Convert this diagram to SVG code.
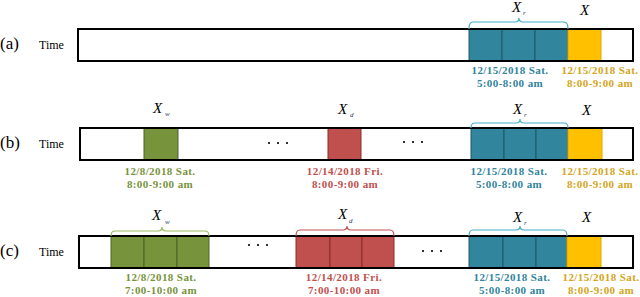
<svg xmlns="http://www.w3.org/2000/svg" width="640" height="297" viewBox="0 0 640 297">
<style>
.lbl{font-family:"Liberation Serif","Times New Roman",serif;font-size:17px;fill:#000}
.time{font-family:"Liberation Serif","Times New Roman",serif;font-size:12px;fill:#000}
.x{font-family:"Liberation Serif","Times New Roman",serif;font-size:15px;font-style:italic;fill:#000}
.sub{font-family:"Liberation Serif","Times New Roman",serif;font-size:7px;font-style:italic;fill:#1F3864}
.dt{font-family:"Liberation Serif","Times New Roman",serif;font-size:11px;letter-spacing:0.4px;font-weight:bold;text-anchor:middle}
.tl{fill:none;stroke:#000;stroke-width:2}
.teal{fill:#31859C;stroke:#215968;stroke-width:1}
.yel{fill:#FFC000;stroke:#E0A800;stroke-width:1}
.grn{fill:#77933C;stroke:#4F6228;stroke-width:1}
.red{fill:#C0504D;stroke:#8B2E2B;stroke-width:1}
.bt{fill:none;stroke:#4BACC6;stroke-width:1.2}
.bg{fill:none;stroke:#9BBB59;stroke-width:1.2}
.br{fill:none;stroke:#C0504D;stroke-width:1.2}
.cteal{fill:#31849B}.cyel{fill:#D4A520}.cgrn{fill:#77933C}.cred{fill:#C0504D}
</style>
<g id="row-a">
  <text class="lbl" x="0" y="49">(a)</text>
  <text class="time" x="39" y="49">Time</text>
  <g id="a-recent">
    <rect class="teal" x="469" y="29" width="33" height="32"/>
    <rect class="teal" x="502" y="29" width="33" height="32"/>
    <rect class="teal" x="535" y="29" width="33" height="32"/>
  </g>
  <rect id="a-target" class="yel" x="568" y="29" width="33" height="32"/>
  <rect id="a-timeline" class="tl" x="78" y="29" width="555" height="32"/>
  <text class="x" x="512" y="12">X</text><text class="sub" x="523" y="15">r</text>
  <text class="x" x="580" y="15">X</text>
  <text class="dt cteal" x="510" y="74">12/15/2018 Sat.</text>
  <text class="dt cteal" x="510" y="87">5:00-8:00 am</text>
  <text class="dt cyel" x="600" y="74">12/15/2018 Sat.</text>
  <text class="dt cyel" x="600" y="87">8:00-9:00 am</text>
</g>
<g id="row-b">
  <text class="lbl" x="0" y="148">(b)</text>
  <text class="time" x="39" y="148">Time</text>
  <rect id="b-week" class="grn" x="144" y="128" width="34" height="32"/>
  <rect id="b-day" class="red" x="328" y="128" width="33" height="32"/>
  <g id="b-recent">
    <rect class="teal" x="471" y="128" width="33" height="32"/>
    <rect class="teal" x="504" y="128" width="32" height="32"/>
    <rect class="teal" x="536" y="128" width="32" height="32"/>
  </g>
  <rect id="b-target" class="yel" x="568" y="128" width="34" height="32"/>
  <rect id="b-timeline" class="tl" x="80" y="128" width="553" height="32"/>
  <g fill="#000"><circle cx="269" cy="143" r="1.1"/><circle cx="278" cy="143" r="1.1"/><circle cx="287" cy="143" r="1.1"/>
  <circle cx="404" cy="142" r="1.1"/><circle cx="413" cy="142" r="1.1"/><circle cx="422" cy="142" r="1.1"/></g>
  <text class="x" x="153" y="113">X</text><text class="sub" x="165" y="116">w</text>
  <text class="x" x="338" y="114">X</text><text class="sub" x="350" y="117">d</text>
  <text class="x" x="513" y="114">X</text><text class="sub" x="524" y="117">r</text>
  <text class="x" x="582" y="115">X</text>
  <text class="dt cgrn" x="160" y="175">12/8/2018 Sat.</text>
  <text class="dt cgrn" x="160" y="188">8:00-9:00 am</text>
  <text class="dt cred" x="345" y="175">12/14/2018 Fri.</text>
  <text class="dt cred" x="345" y="188">8:00-9:00 am</text>
  <text class="dt cteal" x="509" y="175">12/15/2018 Sat.</text>
  <text class="dt cteal" x="509" y="188">5:00-8:00 am</text>
  <text class="dt cyel" x="600" y="175">12/15/2018 Sat.</text>
  <text class="dt cyel" x="600" y="188">8:00-9:00 am</text>
</g>
<g id="row-c">
  <text class="lbl" x="0" y="256">(c)</text>
  <text class="time" x="39" y="256">Time</text>
  <g id="c-week">
    <rect class="grn" x="111" y="236" width="33" height="32"/>
    <rect class="grn" x="144" y="236" width="33" height="32"/>
    <rect class="grn" x="177" y="236" width="32" height="32"/>
  </g>
  <g id="c-day">
    <rect class="red" x="296" y="236" width="34" height="32"/>
    <rect class="red" x="330" y="236" width="32" height="32"/>
    <rect class="red" x="362" y="236" width="32" height="32"/>
  </g>
  <g id="c-recent">
    <rect class="teal" x="469" y="236" width="34" height="32"/>
    <rect class="teal" x="503" y="236" width="33" height="32"/>
    <rect class="teal" x="536" y="236" width="31" height="32"/>
  </g>
  <rect id="c-target" class="yel" x="567" y="236" width="34" height="32"/>
  <rect id="c-timeline" class="tl" x="79" y="236" width="554" height="32"/>
  <g fill="#000"><circle cx="249" cy="245" r="1.1"/><circle cx="258" cy="245" r="1.1"/><circle cx="267" cy="245" r="1.1"/>
  <circle cx="423" cy="251" r="1.1"/><circle cx="432" cy="251" r="1.1"/><circle cx="441" cy="251" r="1.1"/></g>
  <text class="x" x="152" y="220">X</text><text class="sub" x="165" y="224">w</text>
  <text class="x" x="338" y="219">X</text><text class="sub" x="349" y="223">d</text>
  <text class="x" x="513" y="222">X</text><text class="sub" x="524" y="225">r</text>
  <text class="x" x="582" y="222">X</text>
  <text class="dt cgrn" x="161" y="281">12/8/2018 Sat.</text>
  <text class="dt cgrn" x="161" y="294">7:00-10:00 am</text>
  <text class="dt cred" x="344" y="281">12/14/2018 Fri.</text>
  <text class="dt cred" x="344" y="294">7:00-10:00 am</text>
  <text class="dt cteal" x="512" y="281">12/15/2018 Sat.</text>
  <text class="dt cteal" x="512" y="294">5:00-8:00 am</text>
  <text class="dt cyel" x="601" y="281">12/15/2018 Sat.</text>
  <text class="dt cyel" x="601" y="294">8:00-9:00 am</text>
</g>
<g id="connectors">
  <path class="bt" d="M469,29 Q469,22 473,22 L515,22 Q519,22 519,18 Q519,22 523,22 L564,22 Q568,22 568,29"/>
  <path class="bt" d="M471,128 Q471,123 475,123 L516,123 Q520,123 520,119 Q520,123 524,123 L564,123 Q568,123 568,128"/>
  <path class="bg" d="M111,236 Q111,231 115,231 L158,231 Q162,231 162,227 Q162,231 166,231 L205,231 Q209,231 209,236"/>
  <path class="br" d="M296,236 Q296,230 300,230 L343,230 Q347,230 347,226 Q347,230 351,230 L390,230 Q394,230 394,236"/>
  <path class="bt" d="M469,236 Q469,230 473,230 L516,230 Q520,230 520,226 Q520,230 524,230 L563,230 Q567,230 567,236"/>
</g>
</svg>
